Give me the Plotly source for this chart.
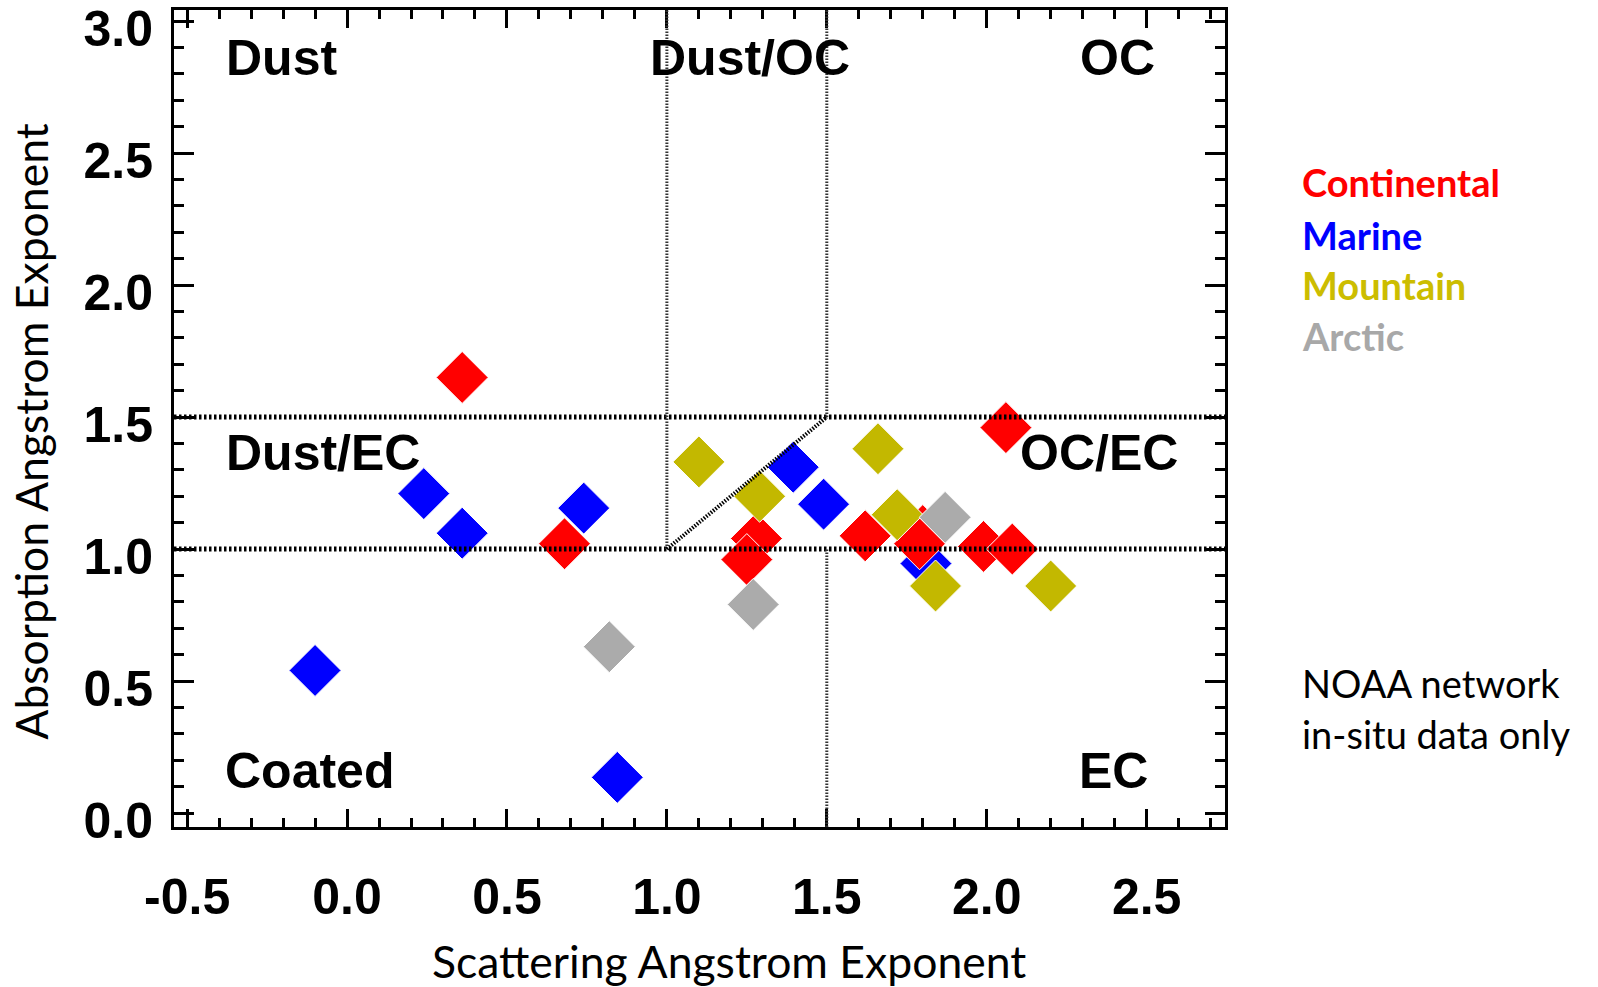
import plotly.graph_objects as go

# Aerosol classes: scattering (SAE) vs absorption (AAE) Angstrom exponents
continental_sae = [0.36, 0.68, 1.28, 1.25, 1.62, 1.80, 1.79, 1.99, 2.08, 2.06]
continental_aae = [1.65, 1.02, 1.04, 0.96, 1.05, 1.07, 1.02, 1.01, 1.00, 1.46]

marine_sae = [-0.10, 0.24, 0.36, 0.74, 0.845, 1.395, 1.49, 1.81]
marine_aae = [0.54, 1.21, 1.06, 1.155, 0.135, 1.31, 1.17, 0.945]

mountain_sae = [1.10, 1.29, 1.66, 1.72, 1.84, 2.20]
mountain_aae = [1.33, 1.20, 1.38, 1.13, 0.86, 0.86]

arctic_sae = [0.82, 1.27, 1.87]
arctic_aae = [0.63, 0.79, 1.12]

# Class boundaries
sae_low, sae_high = 1.0, 1.5
aae_low, aae_high = 1.0, 1.5

x_ticks = [-0.5, 0.0, 0.5, 1.0, 1.5, 2.0, 2.5]
y_ticks = [0.0, 0.5, 1.0, 1.5, 2.0, 2.5, 3.0]

X_RANGE = [-0.541, 2.745]
Y_RANGE = [-0.053, 3.042]

series = [
    ("Continental", continental_sae, continental_aae, "#FF0000", "#FF0000"),
    ("Marine", marine_sae, marine_aae, "#0000FF", "#0000FF"),
    ("Mountain", mountain_sae, mountain_aae, "#C3B800", "#CCBD00"),
    ("Arctic", arctic_sae, arctic_aae, "#ABABAB", "#A8A8A8"),
]

# Region labels: (text, x, y, anchor)
region_labels = [
    ("Dust", -0.384, 2.86, "left"),
    ("Dust/OC", 1.259, 2.86, "center"),
    ("OC", 2.531, 2.86, "right"),
    ("Dust/EC", -0.384, 1.362, "left"),
    ("OC/EC", 2.603, 1.362, "right"),
    ("Coated", -0.3875, 0.158, "left"),
    ("EC", 2.509, 0.158, "right"),
]

fig = go.Figure()

# Draw order: marine first, then continental, mountain, arctic on top
for name in ["Marine", "Continental", "Mountain", "Arctic"]:
    _, xs, ys, mcol, _ = next(s for s in series if s[0] == name)
    fig.add_trace(go.Scatter(
        x=xs, y=ys, mode="markers", name=name, showlegend=False,
        marker=dict(symbol="diamond", size=40, color=mcol,
                    line=dict(color="white", width=1)),
    ))

bold = dict(family="Liberation Sans, Arial, sans-serif", size=50, color="black", weight="bold")

axis_common = dict(
    showgrid=False, zeroline=False, showline=True, linecolor="black", linewidth=3,
    mirror="ticks", ticks="inside", tickwidth=3, tickcolor="black",
    tickfont=bold, automargin=False, ticklabeloverflow="allow",
)

fig.update_xaxes(
    range=X_RANGE, tickvals=x_ticks, ticktext=[f"{v:.1f}" for v in x_ticks],
    ticklen=18, ticklabelstandoff=24,
    minor=dict(dtick=0.1, tick0=0, ticks="inside", ticklen=9, tickwidth=2.5, tickcolor="black"),
    **axis_common,
)
fig.update_yaxes(
    range=Y_RANGE, tickvals=y_ticks, ticktext=[f"{v:.1f}" for v in y_ticks],
    ticklen=20, ticklabelstandoff=8, ticklabelshift=7,
    minor=dict(dtick=0.1, tick0=0, ticks="inside", ticklen=10, tickwidth=2.5, tickcolor="black"),
    **axis_common,
)

h_line = dict(color="black", width=5, dash="2.5px,2.5px")
v_line = dict(color="#333333", width=3, dash="1.5px,1.5px")
y_span = Y_RANGE[1] - Y_RANGE[0]
shapes = [
    # horizontal AAE thresholds across full width
    dict(type="line", xref="x domain", yref="y", x0=0, x1=1, y0=aae_low, y1=aae_low, line=h_line),
    dict(type="line", xref="x domain", yref="y", x0=0, x1=1, y0=aae_high, y1=aae_high, line=h_line),
    # SAE = 1.0 from AAE = 1.0 up to the top
    dict(type="line", xref="x", yref="y domain", x0=sae_low, x1=sae_low,
         y0=(aae_low - Y_RANGE[0]) / y_span, y1=1, line=v_line),
    # SAE = 1.5 above AAE = 1.5
    dict(type="line", xref="x", yref="y domain", x0=sae_high, x1=sae_high,
         y0=(aae_high - Y_RANGE[0]) / y_span, y1=1, line=v_line),
    # SAE = 1.5 below AAE = 1.0
    dict(type="line", xref="x", yref="y domain", x0=sae_high, x1=sae_high,
         y0=0, y1=(aae_low - Y_RANGE[0]) / y_span, line=v_line),
    # diagonal separating Dust/EC from OC/EC
    dict(type="line", xref="x", yref="y", x0=sae_low, x1=sae_high, y0=aae_low, y1=aae_high,
         line=dict(color="black", width=4, dash="1.5px,1.5px")),
]

annotations = []
for text, x, y, anchor in region_labels:
    annotations.append(dict(text=text, x=x, y=y, xref="x", yref="y", xanchor=anchor,
                            yanchor="middle", showarrow=False, font=bold))

# Axis titles
title_font = dict(family="Lato, sans-serif", size=44.5, color="black")
annotations.append(dict(text="Scattering Angstrom Exponent", x=0.528, y=-0.164,
                        xref="paper", yref="paper", xanchor="center", yanchor="middle",
                        showarrow=False, font=title_font))
annotations.append(dict(text="Absorption Angstrom Exponent", x=-0.136, y=0.484,
                        xref="paper", yref="paper", xanchor="center", yanchor="middle",
                        textangle=-90, showarrow=False, font=title_font))

# Colour-keyed legend text
legend_y = [0.789, 0.725, 0.663, 0.601]
for (name, _, _, _, tcol), ly in zip(series, legend_y):
    annotations.append(dict(text=name, x=1.071, y=ly, xref="paper", yref="paper",
                            xanchor="left", yanchor="middle", showarrow=False,
                            font=dict(family="Lato, sans-serif", size=38, color=tcol, weight="bold")))

note_lines = ["NOAA network", "in-situ data only"]
for line, ly in zip(note_lines, [0.176, 0.114]):
    annotations.append(dict(text=line, x=1.071, y=ly, xref="paper", yref="paper",
                            xanchor="left", yanchor="middle", showarrow=False,
                            font=dict(family="Lato, sans-serif", size=38, color="black")))

fig.update_layout(
    width=1598, height=987,
    margin=dict(l=174, r=373, t=10, b=160),
    paper_bgcolor="white", plot_bgcolor="white",
    shapes=shapes, annotations=annotations,
    showlegend=False,
)

fig.write_html("out.html")
